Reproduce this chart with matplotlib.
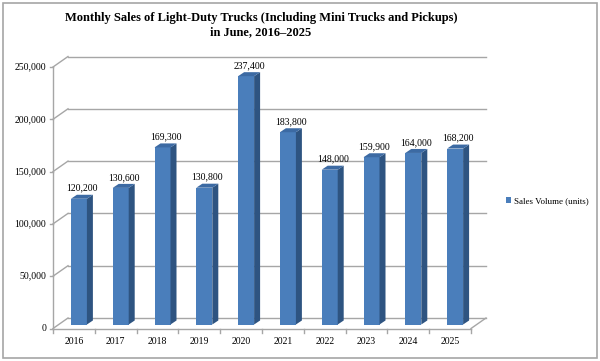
import matplotlib
matplotlib.use('Agg')
import matplotlib.pyplot as plt
from matplotlib.patches import Polygon, Rectangle

# data
years = ['2016', '2017', '2018', '2019', '2020', '2021', '2022', '2023', '2024', '2025']
sales = [120200, 130600, 169300, 130800, 237400, 183800, 148000, 159900, 164000, 168200]
yticks = [0, 50000, 100000, 150000, 200000, 250000]
series_name = 'Sales Volume (units)'
title = 'Monthly Sales of Light-Duty Trucks (Including Mini Trucks and Pickups)\nin June, 2016\u20132025'

plt.rcParams['font.family'] = 'Liberation Serif'

W, H = 600, 361
fig = plt.figure(figsize=(W / 100, H / 100), dpi=100)

# front plane of the pseudo-3D box, in pixels
left, right, bottom, top = 53, 471, 328.5, 67
ax = fig.add_axes([left / W, 1 - bottom / H, (right - left) / W, (bottom - top) / H])
ax.set_xlim(0, len(years))
ax.set_ylim(0, yticks[-1])
ax.axis('off')

kx = (right - left) / len(years)
ky = (bottom - top) / yticks[-1]


def px(dx, dy=0):
    # pixel offset -> data offset
    return dx / kx, dy / ky


grid_c = '#A6A6A6'
front_c, side_c, top_c = '#4A7EBB', '#2E5481', '#3C6AA3'

# back wall gridlines + left diagonals + ticks
wdx, wdy = px(15, 10.5)
tdx, _ = px(3)
for t in yticks:
    ax.plot([wdx, len(years) + wdx], [t + wdy, t + wdy], color=grid_c, lw=1, clip_on=False)
    ax.plot([0, wdx], [t, t + wdy], color=grid_c, lw=1, clip_on=False)
    ax.plot([-tdx, 0], [t, t], color=grid_c, lw=1, clip_on=False)
    ax.text(-px(7)[0], t, f'{t:,}', ha='right', va='center', fontsize=7)

# front axis and floor
ax.plot([0, 0], [0, yticks[-1]], color=grid_c, lw=1, clip_on=False)
ax.plot([0, len(years)], [0, 0], color=grid_c, lw=1, clip_on=False)
ax.plot([len(years), len(years) + wdx], [0, wdy], color=grid_c, lw=1, clip_on=False)
_, xtick_len = px(0, 4)
for i in range(len(years) + 1):
    ax.plot([i, i], [0, -xtick_len], color=grid_c, lw=1, clip_on=False)

_, lab_y = px(0, 13.5)
for i, yr in enumerate(years):
    ax.text(i + 0.5, -lab_y, yr, ha='center', va='center', fontsize=7)

# bars: front face via ax.bar, side and top faces as polygons
bw = px(16)[0]
fdx, fdy = px(5, 4)
sdx, sdy = px(6, 4)
xs = [i + 0.5 + fdx for i in range(len(years))]
ax.bar(xs, sales, width=bw, bottom=fdy, color=front_c, label=series_name, zorder=3)
for x, v in zip(xs, sales):
    x0, x1 = x - bw / 2, x + bw / 2
    y0, y1 = fdy, fdy + v
    ax.add_patch(Polygon([(x1, y0), (x1 + sdx, y0 + sdy), (x1 + sdx, y1 + sdy), (x1, y1)],
                         closed=True, fc=side_c, ec='none', zorder=3))
    ax.add_patch(Polygon([(x0, y1), (x1, y1), (x1 + sdx, y1 + sdy), (x0 + sdx, y1 + sdy)],
                         closed=True, fc=top_c, ec='none', zorder=3))
    ax.annotate(f'{v:,}', (x + sdx / 2, y1 + sdy), xytext=(0, 1.5), textcoords='offset points',
                ha='center', va='bottom', fontsize=7)

fig.legend(loc='center left', bbox_to_anchor=(498 / W, 1 - 201 / H), frameon=False,
           fontsize=6.5, handlelength=0.55, handleheight=0.55, handletextpad=0.3)

fig.text(261 / W, 1 - 25 / H, title, ha='center', va='center', fontsize=9,
         fontweight='bold', linespacing=1.25)

fig.patches.append(Rectangle((3 / W, 3 / H), 594 / W, 355 / H, transform=fig.transFigure,
                             fill=False, ec='#A6A6A6', lw=1.2))

fig.savefig('out.png', dpi=100)
